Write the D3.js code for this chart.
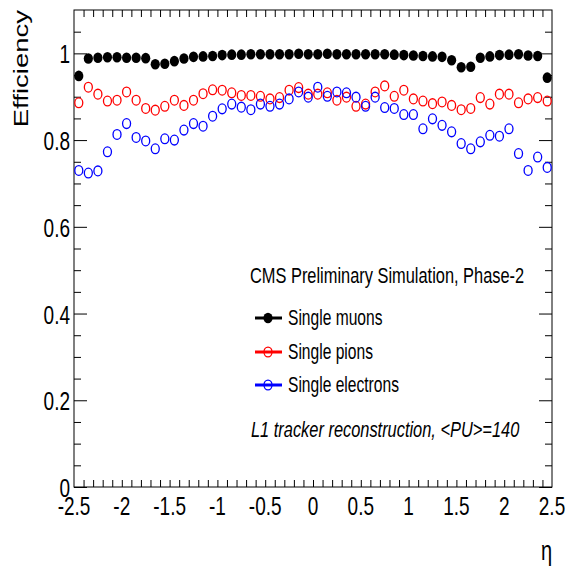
<!DOCTYPE html>
<html lang="en">
<head>
<meta charset="UTF-8">
<title>L1 tracker efficiency vs eta</title>
<script src="https://d3js.org/d3.v7.min.js"></script>
<style>
  body { margin: 0; background: #fff; }
  svg { display: block; }
  text { font-family: "Liberation Sans", Arial, Helvetica, sans-serif; fill: #000; }
</style>
</head>
<body>
<div id="chart"></div>
<script>
// eta bin centres (50 bins of 0.1)
const etaBins = [-2.45, -2.35, -2.25, -2.15, -2.05, -1.95, -1.85, -1.75, -1.65, -1.55,
                 -1.45, -1.35, -1.25, -1.15, -1.05, -0.95, -0.85, -0.75, -0.65, -0.55,
                 -0.45, -0.35, -0.25, -0.15, -0.05, 0.05, 0.15, 0.25, 0.35, 0.45,
                 0.55, 0.65, 0.75, 0.85, 0.95, 1.05, 1.15, 1.25, 1.35, 1.45,
                 1.55, 1.65, 1.75, 1.85, 1.95, 2.05, 2.15, 2.25, 2.35, 2.45];

const muonEff = [0.948, 0.988, 0.990, 0.991, 0.991, 0.990, 0.990, 0.989, 0.975, 0.976,
                 0.982, 0.988, 0.992, 0.993, 0.994, 0.996, 0.997, 0.997, 0.998, 0.998,
                 0.998, 0.998, 0.998, 0.999, 0.998, 0.998, 0.999, 0.998, 0.998, 0.998,
                 0.998, 0.998, 0.998, 0.997, 0.996, 0.995, 0.994, 0.993, 0.992, 0.984,
                 0.968, 0.969, 0.990, 0.993, 0.996, 0.997, 0.998, 0.995, 0.994, 0.944];

const pionEff = [0.886, 0.922, 0.906, 0.890, 0.892, 0.911, 0.892, 0.873, 0.869, 0.878,
                 0.892, 0.880, 0.892, 0.907, 0.916, 0.915, 0.909, 0.903, 0.903, 0.901,
                 0.895, 0.898, 0.915, 0.921, 0.906, 0.906, 0.909, 0.892, 0.899, 0.878,
                 0.883, 0.911, 0.925, 0.901, 0.915, 0.895, 0.890, 0.884, 0.888, 0.880,
                 0.870, 0.873, 0.898, 0.883, 0.906, 0.906, 0.886, 0.895, 0.898, 0.890];

const electronEff = [0.730, 0.724, 0.729, 0.773, 0.813, 0.838, 0.806, 0.798, 0.780, 0.803,
                     0.800, 0.823, 0.838, 0.832, 0.855, 0.872, 0.883, 0.876, 0.870, 0.883,
                     0.878, 0.883, 0.895, 0.911, 0.899, 0.922, 0.901, 0.911, 0.909, 0.899,
                     0.878, 0.899, 0.875, 0.873, 0.859, 0.859, 0.826, 0.849, 0.834, 0.819,
                     0.792, 0.780, 0.796, 0.811, 0.809, 0.826, 0.769, 0.730, 0.761, 0.737];

const xTickLabels = [-2.5, -2, -1.5, -1, -0.5, 0, 0.5, 1, 1.5, 2, 2.5];
const yTickLabels = [0, 0.2, 0.4, 0.6, 0.8, 1];
const seriesNames = ["Single muons", "Single pions", "Single electrons"];

const W = 567, H = 566;
const fLeft = 74, fRight = 552, fTop = 10, fBottom = 487;
const TS = 1.4; // picture is stretched vertically, so text is too

const svg = d3.select("#chart").append("svg").attr("width", W).attr("height", H);

const x = d3.scaleLinear().domain([-2.5, 2.5]).range([fLeft, fRight]);
const y = d3.scaleLinear().domain([0, 1.1]).range([fBottom, fTop]);

// stretched text helper: (px, py) is the baseline point
function label(px, py, str, size, anchor) {
    return svg.append("text")
        .attr("transform", `translate(${px},${py}) scale(1,${TS})`)
        .attr("text-anchor", anchor)
        .style("font-size", size + "px")
        .text(str);
}

// ticks on all four sides
const xMinor = d3.range(-2.4, 2.45, 0.1).map(v => +v.toFixed(2));
const yMinor = d3.range(0.05, 1.1, 0.05).map(v => +v.toFixed(2)).filter(v => !yTickLabels.includes(v));

function tickAxis(axis, vals, size, tr) {
    const g = svg.append("g").attr("transform", tr)
        .call(axis.tickValues(vals).tickSize(size).tickFormat(""));
    g.select(".domain").remove();
    g.selectAll("line").attr("stroke", "#000").attr("stroke-width", 1);
}
tickAxis(d3.axisTop(x), xMinor, 7, `translate(0,${fBottom})`);
tickAxis(d3.axisBottom(x), xMinor, 7, `translate(0,${fTop})`);
tickAxis(d3.axisRight(y), yTickLabels, 13, `translate(${fLeft},0)`);
tickAxis(d3.axisRight(y), yMinor, 7, `translate(${fLeft},0)`);
tickAxis(d3.axisLeft(y), yTickLabels, 13, `translate(${fRight},0)`);
tickAxis(d3.axisLeft(y), yMinor, 7, `translate(${fRight},0)`);

svg.append("rect")
    .attr("x", fLeft).attr("y", fTop)
    .attr("width", fRight - fLeft).attr("height", fBottom - fTop)
    .attr("fill", "none").attr("stroke", "#000").attr("stroke-width", 1);

// tick labels
xTickLabels.forEach(v => label(x(v), 515, String(v), 19, "middle"));
yTickLabels.forEach(v => label(70, y(v) + 10, String(v), 19, "end"));

// axis titles
svg.append("text")
    .attr("transform", `translate(28,${fTop}) scale(1,1.31) rotate(-90)`)
    .attr("text-anchor", "end")
    .style("font-size", "21px")
    .text("Efficiency");
label(552, 560, "\u03b7", 20, "end");

// markers
const series = [
    { vals: muonEff, color: "#000", filled: true },
    { vals: pionEff, color: "#ff0000", filled: false },
    { vals: electronEff, color: "#0000ff", filled: false }
];

function marker(sel, s) {
    if (s.filled) {
        sel.attr("rx", 4.6).attr("ry", 5.3).attr("fill", s.color);
    } else {
        sel.attr("rx", 4.0).attr("ry", 4.9).attr("fill", "none")
            .attr("stroke", s.color).attr("stroke-width", 1.3);
    }
}

series.forEach(s => {
    svg.append("g").selectAll("ellipse")
        .data(etaBins.map((e, i) => [e, s.vals[i]]))
        .join("ellipse")
        .attr("cx", d => x(d[0]))
        .attr("cy", d => y(d[1]))
        .call(marker, s);
});

// legend / captions
label(250, 283, "CMS Preliminary Simulation, Phase-2", 16.4, "start");
const legendY = [318, 352, 385];
series.forEach((s, i) => {
    svg.append("line")
        .attr("x1", 255).attr("x2", 282)
        .attr("y1", legendY[i]).attr("y2", legendY[i])
        .attr("stroke", s.color).attr("stroke-width", 3);
    svg.append("ellipse")
        .attr("cx", 268).attr("cy", legendY[i])
        .call(marker, s);
    label(288, legendY[i] + 7, seriesNames[i], 15.6, "start");
});
label(251, 437, "L1 tracker reconstruction, <PU>=140", 16.4, "start")
    .style("font-style", "italic");
</script>
</body>
</html>
